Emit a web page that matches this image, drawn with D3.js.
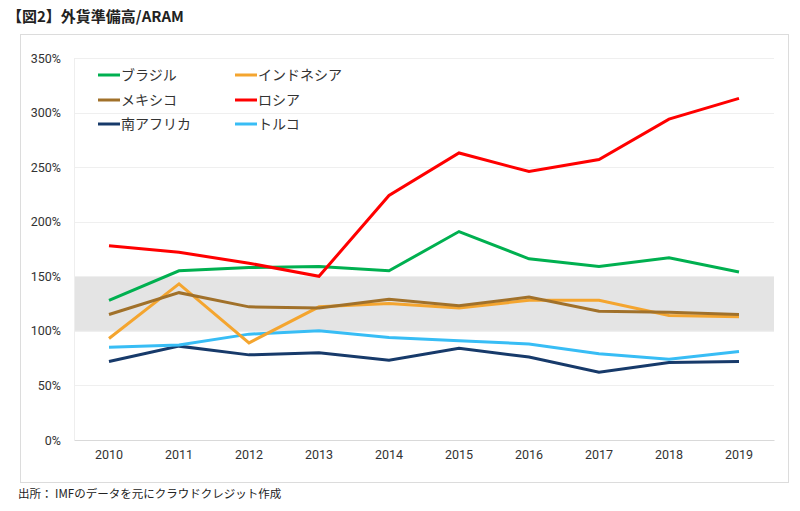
<!DOCTYPE html>
<html><head><meta charset="utf-8">
<script src="https://cdn.jsdelivr.net/npm/d3@7"></script>
<style>
body{margin:0;background:#fff;font-family:"Noto Sans CJK JP","Noto Sans",sans-serif;}
</style></head>
<body><svg id="c" width="800" height="511"></svg>
<script>
const years = ["2010","2011","2012","2013","2014","2015","2016","2017","2018","2019"];
const yTicks = [0,50,100,150,200,250,300,350];
const brazil    = [128,155,158,159,155,191,166,159,167,154];
const indonesia = [93,143,89,122,125,121,128,128,114,113];
const mexico    = [115,135,122,121,129,123,131,118,117,115];
const russia    = [178,172,162,150,224,263,246,257,294,313];
const safrica   = [72,86,78,80,73,84,76,62,71,72];
const turkey    = [85,87,97,100,94,91,88,79,74,81];
const seriesNames = ["ブラジル","インドネシア","メキシコ","ロシア","南アフリカ","トルコ"];
const seriesValues = [brazil,indonesia,mexico,russia,safrica,turkey];
const seriesColors = ["#00b050","#f4a52f","#a1712a","#ff0000","#173a6a","#38bdf5"];
const band = [100,150];

const svg = d3.select("#c");
svg.append("text").attr("x",7).attr("y",22).attr("font-size",15).attr("font-weight","bold")
  .attr("fill","#222").text("【図2】外貨準備高/ARAM");
svg.append("rect").attr("x",20.5).attr("y",34.5).attr("width",768).attr("height",448)
  .attr("fill","#fff").attr("stroke","#dcdcdc");
svg.append("text").attr("x",18).attr("y",498).attr("font-size",11.5).attr("fill","#222")
  .text("出所： IMFのデータを元にクラウドクレジット作成");

const L=74,R=774,T=58,B=440;
const x = d3.scaleBand().domain(years).range([L,R]);
const y = d3.scaleLinear().domain([0,350]).range([B,T]);
const cx = d => x(d)+x.bandwidth()/2;

svg.append("rect").attr("x",L).attr("width",R-L).attr("y",y(band[1])).attr("height",y(band[0])-y(band[1]))
  .attr("fill","#e4e4e4");
svg.append("g").selectAll("line").data(yTicks.filter(d=>d>0)).join("line")
  .attr("x1",L).attr("x2",R).attr("y1",d=>Math.round(y(d))+0.5).attr("y2",d=>Math.round(y(d))+0.5)
  .attr("stroke","#efefef");
svg.append("line").attr("x1",L+0.5).attr("x2",L+0.5).attr("y1",T).attr("y2",B).attr("stroke","#eeeeee");

const yAx = svg.append("g").attr("transform",`translate(${L-10},0)`)
  .call(d3.axisLeft(y).tickValues(yTicks).tickFormat(d=>d+"%").tickSize(0));
yAx.select(".domain").remove();
yAx.selectAll("text").attr("font-family","Roboto,sans-serif").attr("font-size",12.5).attr("fill","#333");

const xAx = svg.append("g").attr("transform",`translate(0,${B})`)
  .call(d3.axisBottom(x).tickSize(0).tickPadding(10));
xAx.select(".domain").attr("stroke","#d9d9d9");
xAx.selectAll("text").attr("font-family","Roboto,sans-serif").attr("font-size",12.5).attr("fill","#333");

const line = d3.line().x((d,i)=>cx(years[i])).y(d=>y(d));
const order = [4,5,1,2,0,3];
order.forEach(k=>{
  svg.append("path").datum(seriesValues[k]).attr("d",line).attr("fill","none")
    .attr("stroke",seriesColors[k]).attr("stroke-width",3).attr("stroke-linejoin","miter");
});

const legX=[98,235], legY=[75,100,124];
seriesNames.forEach((n,i)=>{
  const lx=legX[i%2], ly=legY[Math.floor(i/2)];
  svg.append("line").attr("x1",lx).attr("x2",lx+22).attr("y1",ly).attr("y2",ly)
    .attr("stroke",seriesColors[i]).attr("stroke-width",3);
  svg.append("text").attr("x",lx+23).attr("y",ly+5).attr("font-size",14).attr("fill","#333").text(n);
});
</script></body></html>
